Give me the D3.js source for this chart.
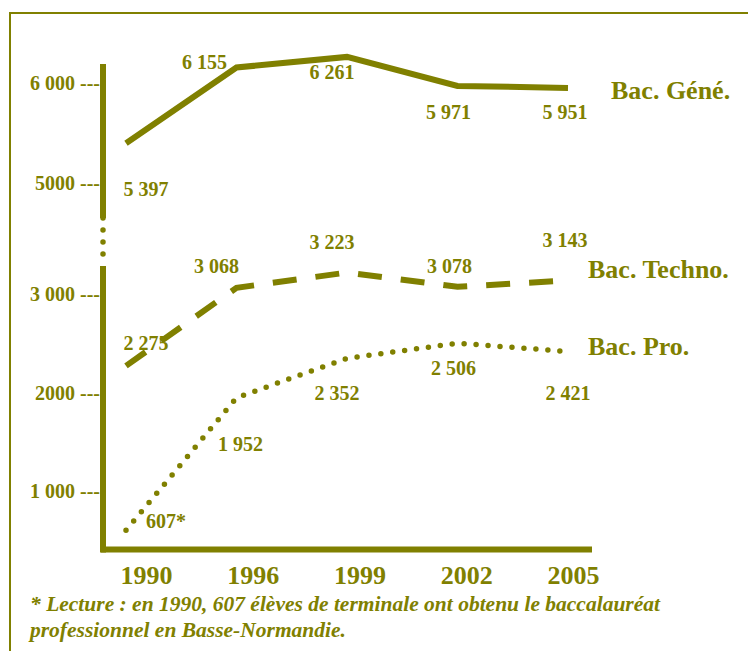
<!DOCTYPE html>
<html lang="fr">
<head>
<meta charset="utf-8">
<title>Bacheliers en Basse-Normandie</title>
<script src="https://cdn.jsdelivr.net/npm/d3@7"></script>
<style>
  body { margin: 0; background: #fff; }
  svg { display: block; }
  text { font-family: "Liberation Serif", "Times New Roman", serif; font-weight: bold; fill: #808000; }
</style>
</head>
<body>
<svg width="748" height="651"></svg>
<script>
// data
var years = ["1990", "1996", "1999", "2002", "2005"];
var bacGene = [5397, 6155, 6261, 5971, 5951];
var bacTechno = [2275, 3068, 3223, 3078, 3143];
var bacPro = [607, 1952, 2352, 2506, 2421];
var seriesNames = ["Bac. Géné.", "Bac. Techno.", "Bac. Pro."];
var yTicksLow = [1000, 2000, 3000];
var yTicksHigh = [5000, 6000];
var yTickLabels = ["1 000", "2000", "3 000", "5000", "6 000"];
var footnote = ["* Lecture : en 1990, 607 élèves de terminale ont obtenu le baccalauréat",
                "professionnel en Basse-Normandie."];

var olive = "#808000";
var svg = d3.select("svg");

// label placement relative to each point [dx, dy]
var labelOffsets = [
  [[20, 53], [-32, 1], [-15, 22], [-9, 33], [-3, 31]],
  [[20, -16], [-20, -15], [-15, -24], [-8, -14], [-3, -33]],
  [[40, -2], [4, 53], [-10, 42], [-4, 32], [0, 48]]
];
var nameOffsets = [[43, 11], [20, -2], [20, 3]];

var series = [
  {name: seriesNames[0], values: bacGene, dash: null, width: 6, cap: "butt"},
  {name: seriesNames[1], values: bacTechno, dash: "24 19", width: 6, cap: "butt"},
  {name: seriesNames[2], values: bacPro, dash: "0 12", width: 5.5, cap: "round"}
];

// scales: broken y axis, lower part 0-3000 and upper part 5000-6000
var x = d3.scalePoint().domain(years).range([126, 568]);
var xLabels = d3.scalePoint().domain(years).range([146, 573]);
var yLow = d3.scaleLinear().domain([0, 3000]).range([590, 294.5]);
var yHigh = d3.scaleLinear().domain([5000, 6000]).range([183, 83]);
function y(v) { return v > 4000 ? yHigh(v) : yLow(v); }

var fmt = d3.formatLocale({decimal: ",", thousands: " ", grouping: [3], currency: ["", ""]}).format(",d");

var axisX = 103, axisTop = 64, breakTop = 218, breakBottom = 266, baseY = 549.5, axisRight = 592;

// frame
svg.append("rect")
    .attr("x", 10).attr("y", 13)
    .attr("width", 780).attr("height", 700)
    .attr("fill", "none").attr("stroke", olive).attr("stroke-width", 2);

// axis bars
svg.append("line")
    .attr("x1", axisX).attr("x2", axisX).attr("y1", axisTop).attr("y2", breakTop)
    .attr("stroke", olive).attr("stroke-width", 6);
svg.append("line")
    .attr("x1", axisX).attr("x2", axisX).attr("y1", breakTop).attr("y2", breakBottom)
    .attr("stroke", olive).attr("stroke-width", 5.5)
    .attr("stroke-linecap", "round").attr("stroke-dasharray", "0 12");
svg.append("line")
    .attr("x1", axisX).attr("x2", axisX).attr("y1", breakBottom).attr("y2", baseY + 3)
    .attr("stroke", olive).attr("stroke-width", 6);
svg.append("line")
    .attr("x1", axisX - 2).attr("x2", axisRight).attr("y1", baseY).attr("y2", baseY)
    .attr("stroke", olive).attr("stroke-width", 6);

// y axes
function tickText(d) { return yTickLabels[yTicksLow.concat(yTicksHigh).indexOf(d)] + " ---"; }
[[yLow, yTicksLow], [yHigh, yTicksHigh]].forEach(function(a) {
  var g = svg.append("g")
      .attr("transform", "translate(" + axisX + ",0)")
      .call(d3.axisLeft(a[0]).tickValues(a[1]).tickSize(0).tickPadding(3).tickFormat(tickText));
  g.select(".domain").remove();
  g.attr("font-size", 20).attr("font-family", null);
  g.selectAll("text").attr("dy", "0.3em");
});

// x axis labels
var gx = svg.append("g")
    .attr("transform", "translate(0," + baseY + ")")
    .call(d3.axisBottom(xLabels).tickSize(0).tickPadding(16));
gx.select(".domain").remove();
gx.attr("font-size", 26).attr("font-family", null);

// lines
var line = d3.line()
    .x(function(d, i) { return x(years[i]); })
    .y(function(d) { return y(d); });

series.forEach(function(s, si) {
  svg.append("path")
      .attr("d", line(s.values))
      .attr("fill", "none")
      .attr("stroke", olive)
      .attr("stroke-width", s.width)
      .attr("stroke-linecap", s.cap)
      .attr("stroke-linejoin", "miter")
      .attr("stroke-dasharray", s.dash);

  svg.selectAll(".lbl" + si)
    .data(s.values)
    .enter().append("text")
      .attr("class", "lbl" + si)
      .attr("x", function(d, i) { return x(years[i]) + labelOffsets[si][i][0]; })
      .attr("y", function(d) { return y(d); })
      .attr("dy", function(d, i) { return labelOffsets[si][i][1]; })
      .attr("text-anchor", "middle")
      .attr("font-size", 20)
      .text(function(d, i) { return fmt(d) + (si === 2 && i === 0 ? "*" : ""); });

  var last = s.values.length - 1;
  svg.append("text")
      .attr("x", x(years[last]) + nameOffsets[si][0])
      .attr("y", y(s.values[last]) + nameOffsets[si][1])
      .attr("font-size", 26)
      .text(s.name);
});

// footnote
svg.selectAll(".note")
  .data(footnote)
  .enter().append("text")
    .attr("class", "note")
    .attr("x", 30)
    .attr("y", function(d, i) { return 611 + i * 26; })
    .attr("font-size", 21.5)
    .attr("font-style", "italic")
    .text(function(d) { return d; });
</script>
</body>
</html>
